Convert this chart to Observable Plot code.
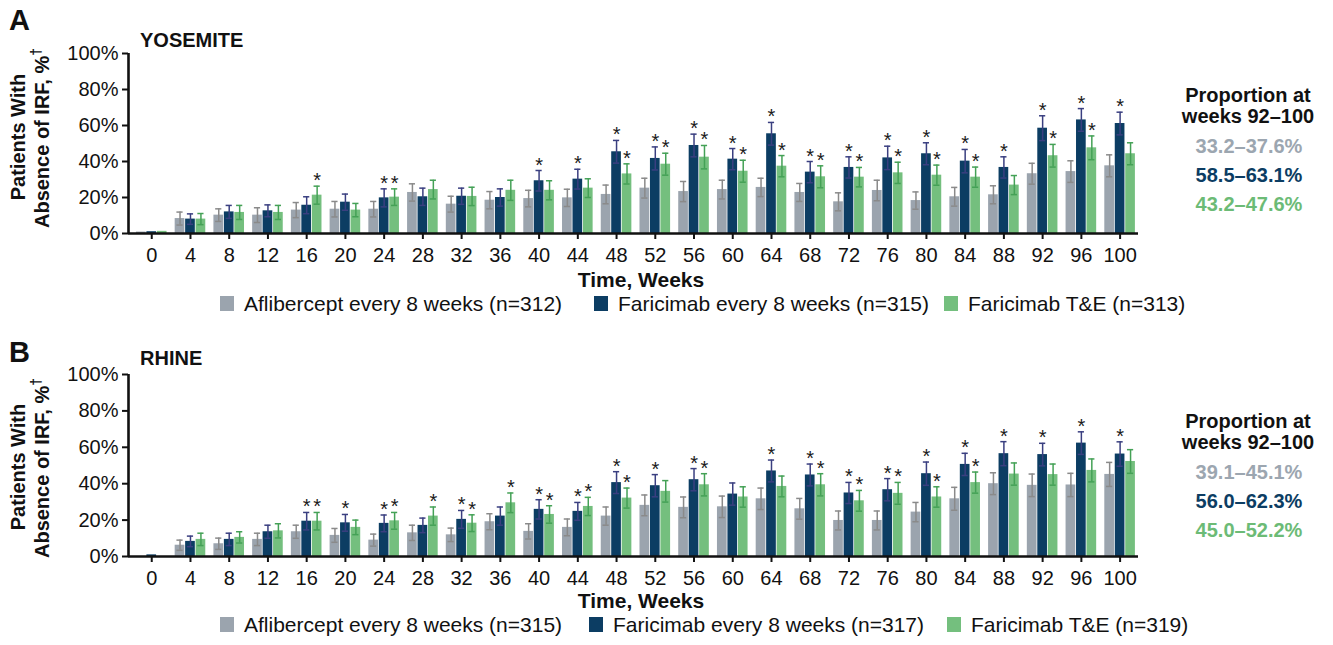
<!DOCTYPE html>
<html>
<head>
<meta charset="utf-8">
<script src="https://cdn.jsdelivr.net/npm/d3@7"></script>
<script src="https://cdn.jsdelivr.net/npm/@observablehq/plot@0.6"></script>
<style>
html, body { margin: 0; padding: 0; background: #fff; }
#root { position: relative; width: 1333px; height: 645px; overflow: hidden; font-family: "Liberation Sans", Arial, Helvetica, sans-serif; }
#root > svg { position: absolute; left: 0; }
</style>
</head>
<body>
<div id="root"></div>
<script>
// ---------- DATA ----------
const weeks = [0, 4, 8, 12, 16, 20, 24, 28, 32, 36, 40, 44, 48, 52, 56, 60, 64, 68, 72, 76, 80, 84, 88, 92, 96, 100];
const yTicks = [0, 20, 40, 60, 80, 100];
const seriesNames = ["Aflibercept every 8 weeks", "Faricimab every 8 weeks", "Faricimab T&E"];

// YOSEMITE (panel A)
const yosemiteN = [312, 315, 313];
const yosemiteAflibercept = [0.8, 8.3, 10.2, 10.2, 13.0, 13.5, 13.5, 22.8, 16.3, 18.5, 19.4, 19.8, 21.7, 25.2, 23.3, 24.4, 25.6, 22.8, 17.6, 23.9, 18.3, 20.4, 21.5, 33.2, 34.4, 37.6];
const yosemiteFaricimabQ8W = [1.0, 8.0, 12.0, 12.6, 15.7, 17.4, 19.8, 20.4, 20.7, 20.0, 29.3, 30.2, 45.4, 41.7, 48.9, 41.3, 55.4, 34.1, 36.7, 42.0, 44.3, 40.2, 36.7, 58.5, 63.1, 61.1];
const yosemiteFaricimabTE = [1.2, 8.0, 11.7, 11.7, 21.3, 13.0, 20.2, 24.4, 20.6, 24.0, 24.0, 25.2, 33.1, 38.5, 42.4, 34.6, 37.4, 31.5, 31.3, 33.7, 32.4, 31.3, 26.9, 43.2, 47.6, 44.3];
const yosemiteErrAflibercept = [0, 3.6, 3.5, 4.1, 4.2, 4.3, 4.3, 4.8, 4.4, 4.8, 4.6, 4.8, 5.2, 5.5, 5.6, 5.2, 5.1, 5.0, 5.0, 5.7, 4.8, 5.2, 5.0, 5.8, 6.0, 6.1];
const yosemiteErrFaricimabQ8W = [0, 2.9, 3.6, 3.3, 4.7, 4.5, 5.0, 4.8, 4.5, 4.8, 5.7, 5.5, 6.3, 6.4, 6.3, 5.9, 6.3, 5.9, 5.9, 6.5, 6.1, 6.5, 5.9, 6.9, 6.3, 6.3];
const yosemiteErrFaricimabTE = [0, 3.1, 3.9, 3.9, 5.0, 3.7, 4.6, 5.2, 5.1, 5.6, 5.3, 5.2, 5.6, 6.1, 6.5, 6.1, 5.9, 6.1, 5.4, 5.9, 5.6, 5.6, 5.3, 6.3, 6.6, 6.1];
const yosemiteStarsFaricimabQ8W = [24, 40, 44, 48, 52, 56, 60, 64, 68, 72, 76, 80, 84, 88, 92, 96, 100];
const yosemiteStarsFaricimabTE = [16, 24, 48, 52, 56, 60, 64, 68, 72, 76, 80, 84, 92, 96];
const yosemiteProportion = ["33.2–37.6%", "58.5–63.1%", "43.2–47.6%"];

// RHINE (panel B)
const rhineN = [315, 317, 319];
const rhineAflibercept = [0, 6.2, 7.0, 9.4, 13.6, 11.6, 9.0, 13.0, 11.9, 19.1, 13.8, 16.0, 22.2, 28.1, 27.0, 27.3, 31.7, 26.2, 19.8, 19.8, 24.4, 31.7, 40.0, 39.1, 39.3, 45.1];
const rhineFaricimabQ8W = [0.9, 8.3, 9.4, 13.6, 19.4, 18.5, 18.2, 17.1, 20.4, 22.2, 25.9, 24.8, 40.6, 38.9, 42.2, 34.3, 47.0, 44.8, 34.9, 36.7, 45.5, 50.6, 56.5, 56.0, 62.3, 56.3];
const rhineFaricimabTE = [0, 9.4, 10.5, 14.1, 19.4, 16.0, 19.6, 22.2, 18.3, 29.5, 23.1, 27.5, 32.1, 35.8, 39.4, 32.7, 38.5, 39.4, 30.6, 34.7, 32.7, 40.6, 45.3, 45.0, 47.3, 52.2];
const rhineErrAflibercept = [0, 2.8, 3.1, 3.4, 3.6, 3.8, 3.3, 4.2, 3.7, 4.4, 4.2, 4.6, 5.0, 5.7, 5.7, 5.9, 5.9, 5.7, 5.2, 5.2, 5.3, 6.3, 6.0, 6.2, 6.4, 6.6];
const rhineErrFaricimabQ8W = [0, 2.9, 3.4, 3.6, 4.8, 4.6, 4.6, 4.0, 4.9, 5.0, 5.3, 4.9, 6.0, 6.1, 6.1, 6.1, 6.0, 6.0, 5.8, 6.1, 6.4, 6.1, 6.6, 6.2, 6.2, 6.7];
const rhineErrFaricimabTE = [0, 3.4, 3.1, 3.9, 4.8, 4.0, 4.6, 5.0, 4.6, 5.4, 4.8, 5.0, 5.5, 5.9, 6.1, 5.6, 5.7, 6.1, 5.7, 6.0, 5.6, 5.8, 6.1, 5.8, 6.3, 6.5];
const rhineStarsFaricimabQ8W = [16, 20, 24, 32, 40, 44, 48, 52, 56, 64, 68, 72, 76, 80, 84, 88, 92, 96, 100];
const rhineStarsFaricimabTE = [16, 24, 28, 32, 36, 40, 44, 48, 56, 68, 72, 76, 80, 84];
const rhineProportion = ["39.1–45.1%", "56.0–62.3%", "45.0–52.2%"];

// ---------- STYLE ----------
const FONT = '"Liberation Sans", Arial, Helvetica, sans-serif';
const barColors = ["#9ba4ae", "#0c3d63", "#74bf7e"];
const errColors = ["#8a8a8a", "#3a3f80", "#44a156"];
const propColors = ["#9ca6b0", "#0c3d63", "#6cbb76"];
const xDomain = [-2.4, 101.9];
const groupOffset = 1.08, barHalf = 0.5, capHalf = 0.32;

function buildRows(values, errs, stars) {
  const out = [];
  values.forEach((vals, s) => vals.forEach((v, i) => out.push({
    week: weeks[i], s, v, e: errs[s][i],
    star: stars[s].includes(weeks[i]),
    xc: weeks[i] + (s - 1) * groupOffset
  })));
  return out;
}

function panel(rows, marginTop, plotHeight) {
  const height = 275;
  const marks = [];
  for (let s = 0; s < 3; s++) {
    const d = rows.filter(r => r.s === s);
    const de = d.filter(r => r.e > 0);
    marks.push(Plot.rectY(d, {x1: r => r.xc - barHalf, x2: r => r.xc + barHalf, y1: 0, y2: "v", fill: barColors[s]}));
    marks.push(Plot.ruleX(de, {x: "xc", y1: r => r.v - r.e, y2: r => r.v + r.e, stroke: errColors[s], strokeWidth: 1.5}));
    marks.push(Plot.ruleY(de, {y: r => r.v + r.e, x1: r => r.xc - capHalf, x2: r => r.xc + capHalf, stroke: errColors[s], strokeWidth: 1.5}));
    marks.push(Plot.ruleY(de, {y: r => r.v - r.e, x1: r => r.xc - capHalf, x2: r => r.xc + capHalf, stroke: errColors[s], strokeWidth: 1.5}));
    marks.push(Plot.text(d.filter(r => r.star), {x: "xc", y: r => r.v + r.e, text: () => "*", lineAnchor: "bottom", dy: 1, fontSize: 20, fill: "#1a1a1a"}));
  }
  marks.push(Plot.ruleY([0], {stroke: "#111", strokeWidth: 2.6}));
  marks.push(Plot.ruleX([xDomain[0]], {y1: 0, y2: 100, stroke: "#111", strokeWidth: 2.6}));
  marks.push(Plot.axisY({ticks: yTicks, tickFormat: d => d + "%", tickSize: 6, tickPadding: 4, fontSize: 20, label: null, stroke: "#111", strokeWidth: 2, fill: "#111"}));
  marks.push(Plot.axisX({ticks: weeks, tickFormat: d => String(d), tickSize: 6, tickPadding: 8, fontSize: 20, label: null, stroke: "#111", strokeWidth: 2, fill: "#111"}));
  return Plot.plot({
    width: 1333, height,
    marginLeft: 128, marginRight: 1333 - 1138,
    marginTop, marginBottom: height - marginTop - plotHeight,
    x: {domain: xDomain, axis: null},
    y: {domain: [0, 100], axis: null},
    style: {fontFamily: FONT, background: "transparent", color: "#111", overflow: "visible"},
    marks
  });
}

const root = document.getElementById("root");

const rowsA = buildRows(
  [yosemiteAflibercept, yosemiteFaricimabQ8W, yosemiteFaricimabTE],
  [yosemiteErrAflibercept, yosemiteErrFaricimabQ8W, yosemiteErrFaricimabTE],
  [[], yosemiteStarsFaricimabQ8W, yosemiteStarsFaricimabTE]);
const rowsB = buildRows(
  [rhineAflibercept, rhineFaricimabQ8W, rhineFaricimabTE],
  [rhineErrAflibercept, rhineErrFaricimabQ8W, rhineErrFaricimabTE],
  [[], rhineStarsFaricimabQ8W, rhineStarsFaricimabTE]);

const svgA = panel(rowsA, 53, 180);
svgA.style.top = "0px";
root.appendChild(svgA);
const svgB = panel(rowsB, 53, 182);
svgB.style.top = "321px";
root.appendChild(svgB);

// ---------- ANNOTATIONS (titles, labels, legend, proportions) ----------
const ov = d3.select(root).append("svg")
  .attr("width", 1333).attr("height", 645)
  .style("top", "0px").style("pointer-events", "none")
  .attr("font-family", FONT).attr("fill", "#111");

function annotate(o) {
  const {top, letter, letterY, study, studyY, n, proportion, legendX, titleDY} = o;
  ov.append("text").attr("x", 9).attr("y", letterY).attr("font-size", 29).attr("font-weight", "bold").text(letter);
  ov.append("text").attr("x", 140).attr("y", studyY).attr("font-size", 20).attr("font-weight", "bold").text(study);
  // y title
  const yc = 137 + titleDY;
  ov.append("text").attr("transform", `translate(25,${yc}) rotate(-90)`).attr("text-anchor", "middle")
    .attr("font-size", 20).attr("font-weight", "bold").text("Patients With");
  const t2 = ov.append("text").attr("transform", `translate(49,${yc + 1}) rotate(-90)`).attr("text-anchor", "middle")
    .attr("font-size", 20).attr("font-weight", "bold");
  t2.append("tspan").text("Absence of IRF, %");
  t2.append("tspan").attr("font-size", 14).attr("dy", -8).text("†");
  // x title
  ov.append("text").attr("x", 641).attr("y", top + 287).attr("text-anchor", "middle")
    .attr("font-size", 21).attr("font-weight", "bold").text("Time, Weeks");
  // legend
  for (let s = 0; s < 3; s++) {
    ov.append("rect").attr("x", legendX[s]).attr("y", top + 296).attr("width", 14).attr("height", 15).attr("fill", barColors[s]);
    ov.append("text").attr("x", legendX[s] + 24).attr("y", top + 311).attr("font-size", 21)
      .text(`${seriesNames[s]} (n=${n[s]})`);
  }
  // proportion block
  const py = o.propTop;
  ov.append("text").attr("x", 1248).attr("y", py).attr("text-anchor", "middle").attr("font-size", 20).attr("font-weight", "bold").text("Proportion at");
  ov.append("text").attr("x", 1248).attr("y", py + 21).attr("text-anchor", "middle").attr("font-size", 20).attr("font-weight", "bold").text("weeks 92–100");
  const offs = [51, 80, 109];
  for (let s = 0; s < 3; s++) {
    ov.append("text").attr("x", 1249).attr("y", py + offs[s]).attr("text-anchor", "middle")
      .attr("font-size", 20).attr("font-weight", "bold").attr("fill", propColors[s]).text(proportion[s]);
  }
}

annotate({top: 0, letter: "A", letterY: 30, study: "YOSEMITE", studyY: 47, n: yosemiteN, proportion: yosemiteProportion,
  legendX: [220, 594, 944], titleDY: 0, propTop: 101.7});
annotate({top: 321, letter: "B", letterY: 362, study: "RHINE", studyY: 365, n: rhineN, proportion: rhineProportion,
  legendX: [220, 589, 947], titleDY: 330, propTop: 428});
</script>
</body>
</html>
